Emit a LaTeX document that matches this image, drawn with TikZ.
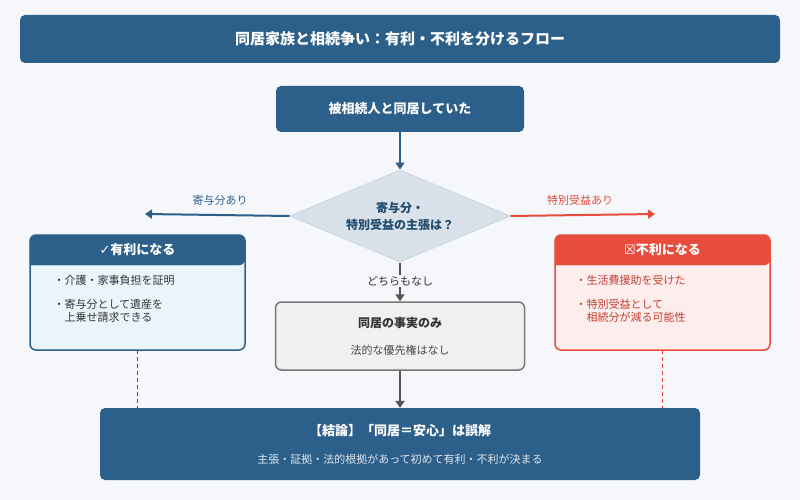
\documentclass[tikz,border=0pt]{standalone}
\usepackage{fontspec}
\setmainfont{Noto Sans CJK JP}
\newfontfamily\djv{DejaVu Sans}
\usetikzlibrary{shapes.geometric,arrows.meta}
\definecolor{navy}{HTML}{2C5F8A}
\definecolor{redc}{HTML}{E74C3C}
\definecolor{bg}{HTML}{F5F7FA}
\definecolor{lblue}{HTML}{EAF4FB}
\definecolor{lred}{HTML}{FDEDEC}
\definecolor{gbox}{HTML}{F0F0F0}
\definecolor{gline}{HTML}{777777}
\definecolor{txt}{HTML}{333333}
\begin{document}
\begin{tikzpicture}[x=1pt,y=-1pt,
  navybox/.style={fill=navy,rounded corners=5pt,text=white,font=\bfseries},
  arr/.style={-{Triangle[length=7pt,width=9pt]},line width=2pt},
  lab/.style={font=\fontsize{11}{13}\selectfont,text=txt}]
\useasboundingbox[fill=bg] (0,0) rectangle (800,500);
\node[navybox,minimum width=760pt,minimum height=48pt,font=\bfseries\fontsize{15}{18}\selectfont] (title) at (400,39) {同居家族と相続争い：有利・不利を分けるフロー};
\node[navybox,minimum width=248pt,minimum height=46pt,font=\bfseries\fontsize{13}{16}\selectfont] (start) at (400,109) {被相続人と同居していた};
\node[diamond,aspect=2.45,fill=navy!18,draw=navy!25,line width=1pt,minimum width=220pt,minimum height=92pt,inner sep=0pt,align=center,text=navy!80!black,font=\bfseries\fontsize{12}{17}\selectfont] (q) at (400,216) {寄与分・\\特別受益の主張は？};
\draw[arr,navy] (start) -- (q.north);
% left
\draw[rounded corners=6pt,line width=1.5pt,draw=navy,fill=lblue] (30,235) rectangle (245,350);
\draw[navy,fill=navy,rounded corners=6pt] (30,265) -- (30,235) -- (245,235) -- (245,265) [sharp corners]-- cycle;
\node[text=white,font=\bfseries\fontsize{13}{16}\selectfont] (lt) at (137.5,250) {{\djv ✓}有利になる};
\node[lab,anchor=west,align=left] (l1) at (50,280) {・介護・家事負担を証明};
\node[lab,anchor=north west,align=left] (l2) at (50,296) {・寄与分として遺産を\\\hspace{1em}上乗せ請求できる};
\coordinate (lb) at (137.5,350);
% right
\draw[rounded corners=6pt,line width=1.5pt,draw=redc,fill=lred] (555,235) rectangle (770,350);
\draw[redc,fill=redc,rounded corners=6pt] (555,265) -- (555,235) -- (770,235) -- (770,265) [sharp corners]-- cycle;
\node[text=white,font=\bfseries\fontsize{13}{16}\selectfont] (rt) at (662.5,250) {{\djv ☒}不利になる};
\node[lab,text=redc!85!black,anchor=west,align=left] (r1) at (572,280) {・生活費援助を受けた};
\node[lab,text=redc!85!black,anchor=north west,align=left] (r2) at (572,296) {・特別受益として\\\hspace{1em}相続分が減る可能性};
\coordinate (rb) at (662.5,350);
% arrows sideways
\coordinate (la) at (145,214);
\coordinate (ra) at (655,214);
\draw[arr,navy] (q.west) -- (la);
\draw[arr,redc] (q.east) -- (ra);
\node[lab,text=navy] at (220,200) {寄与分あり};
\node[lab,text=redc] at (580,200) {特別受益あり};
% middle
\node[draw=gline,line width=1.5pt,fill=gbox,rounded corners=6pt,minimum width=249pt,minimum height=68pt] (mid) at (400,336) {};
\node[text=txt,font=\bfseries\fontsize{12}{15}\selectfont] (m1) at (400,323) {同居の事実のみ};
\node[lab,text=txt!90] (m2) at (400,350) {法的な優先権はなし};
\draw[arr,gline!70!black] (q.south) -- (mid.north);
\node[lab,fill=bg,inner sep=1pt] at (400,281) {どちらもなし};
% bottom
\node[navybox,minimum width=600pt,minimum height=72pt] (end) at (400,444) {};
\node[text=white,font=\bfseries\fontsize{13}{16}\selectfont] (e1) at (400,431) {【結論】「同居＝安心」は誤解};
\node[text=white!85!navy,font=\fontsize{11}{13}\selectfont] (e2) at (400,459) {主張・証拠・法的根拠があって初めて有利・不利が決まる};
\draw[arr,gline!70!black] (mid.south) -- (end.north);
\draw[navy,line width=1.5pt,dash pattern=on 4pt off 3pt] (lb) -- (lb|-end.north);
\draw[redc,line width=1.5pt,dash pattern=on 4pt off 3pt] (rb) -- (rb|-end.north);
\end{tikzpicture}
\end{document}
